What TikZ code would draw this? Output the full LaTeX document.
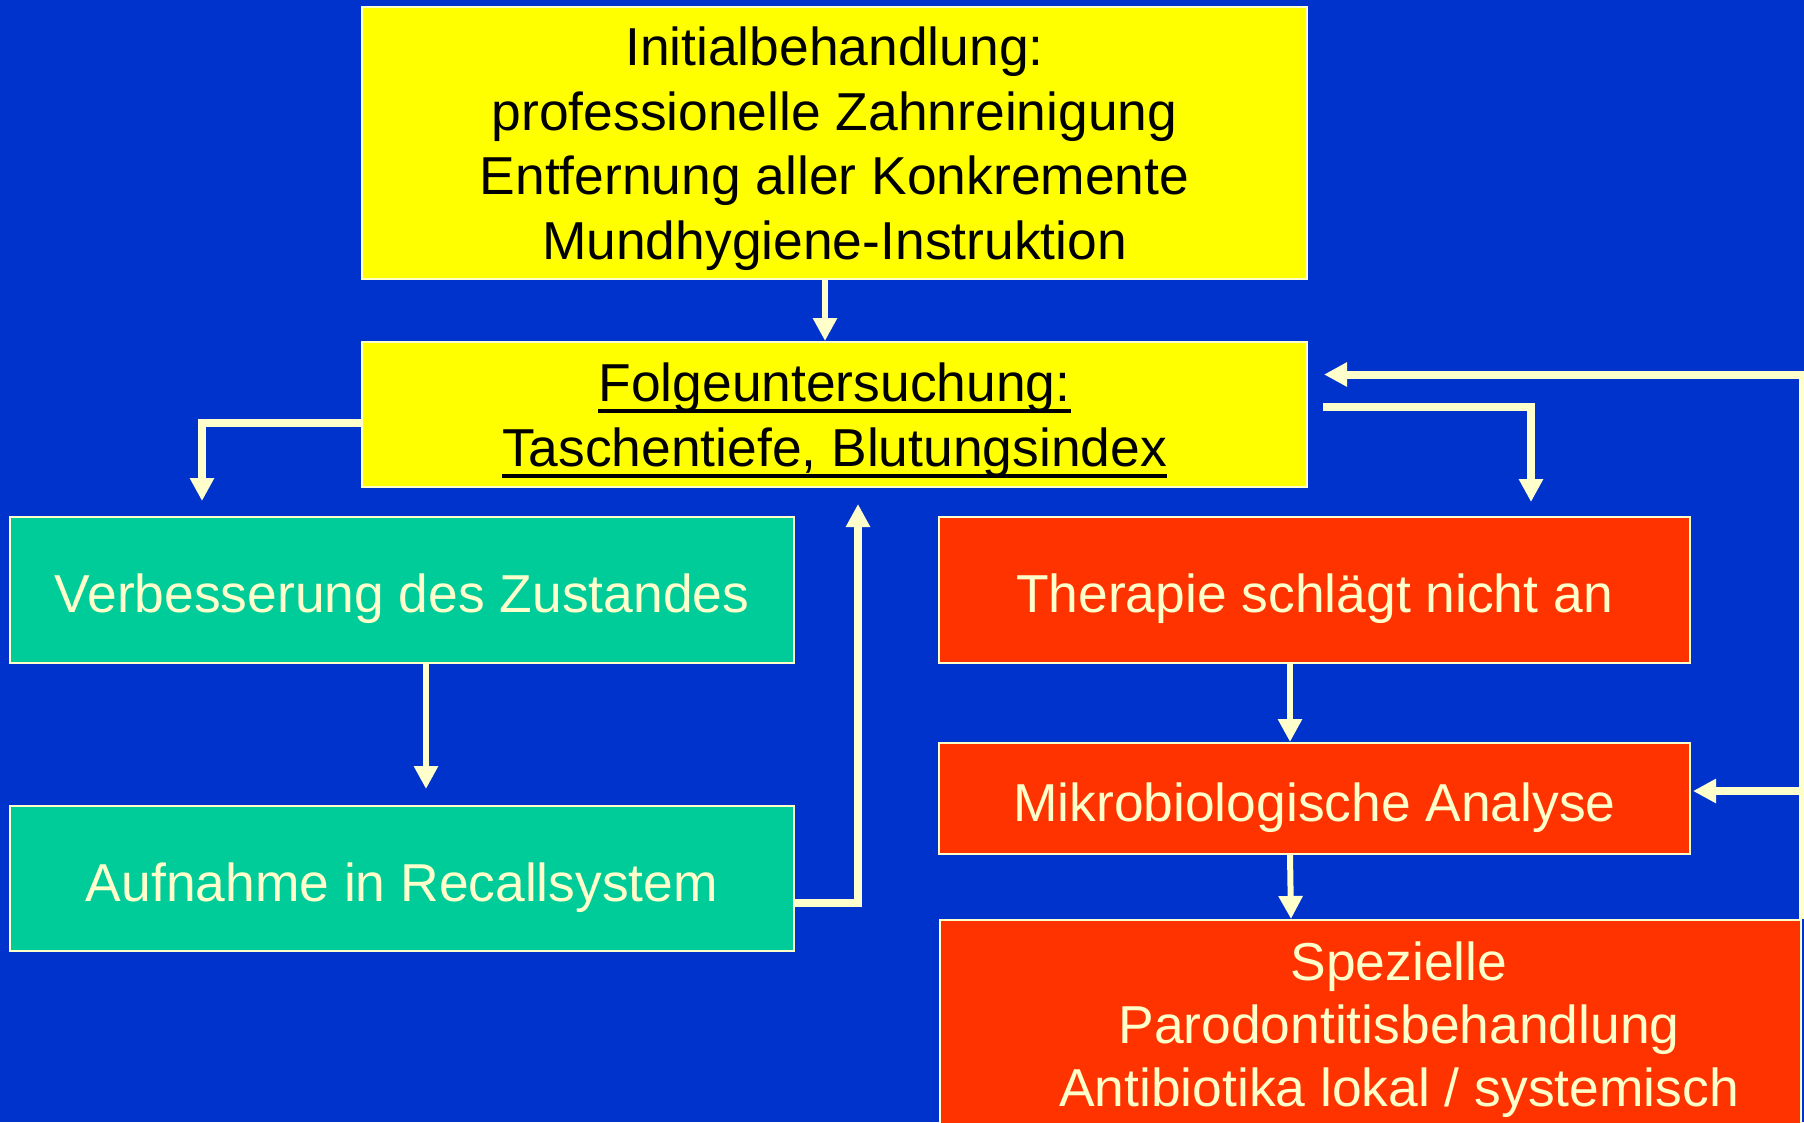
\documentclass[tikz,border=0pt]{standalone}
\usepackage{fontspec}
\setmainfont{Liberation Sans}
\usetikzlibrary{arrows.meta}
\definecolor{bgblue}{HTML}{0033CC}
\definecolor{boxyellow}{HTML}{FFFF00}
\definecolor{boxgreen}{HTML}{00CC99}
\definecolor{boxred}{HTML}{FF3300}
\definecolor{cream}{HTML}{FFFFCC}
\newcommand\myul[1]{\setbox0=\hbox{#1}\rlap{\rule[-11.5pt]{\wd0}{4pt}}\box0}
\tikzset{
  basebox/.style={draw=cream, line width=2pt, inner sep=0pt, align=center,
    font=\fontsize{53.4}{64.5}\selectfont, text depth=0pt},
  oneline/.style={text height=45pt},
  ybox/.style={basebox, fill=boxyellow, text=black},
  gbox/.style={basebox, oneline, fill=boxgreen, text=cream},
  rbox/.style={basebox, oneline, fill=boxred, text=cream},
  conn/.style={draw=cream, line width=8pt, line join=miter, -{Triangle[width=23pt,length=23pt]}, cream},
  sconn/.style={draw=cream, line width=6pt, -{Triangle[width=23pt,length=23pt]}, cream},
}
\begin{document}
\begin{tikzpicture}[x=1pt,y=-1pt]
\fill[bgblue] (0,0) rectangle (1804,1122);
\useasboundingbox (0,0) rectangle (1804,1122);
% boxes
\node[ybox, minimum width=945pt, minimum height=272pt] (init) at (834.5,143)
  {Initialbehandlung:\\professionelle Zahnreinigung\\Entfernung aller Konkremente\\Mundhygiene-Instruktion};
\node[ybox, minimum width=945pt, minimum height=145pt] (folge) at (834.5,414.5)
  {\myul{Folgeuntersuchung:}\\\myul{Taschentiefe, Blutungsindex}};
\node[gbox, minimum width=784pt, minimum height=146pt] (g1) at (402,590)
  {Verbesserung des Zustandes};
\node[gbox, minimum width=784pt, minimum height=145pt] (g2) at (402,878.5)
  {Aufnahme in Recallsystem};
\node[rbox, minimum width=751pt, minimum height=146pt] (r1) at (1314.5,590)
  {Therapie schlägt nicht an};
\node[rbox, minimum width=751pt, minimum height=111pt] (r2) at (1314.5,798.5)
  {Mikrobiologische Analyse};
\node[draw=cream, line width=2pt, fill=boxred, anchor=north west, minimum width=861pt, minimum height=240pt] (r3) at (939,919) {};
\node[align=center, inner sep=0pt, text=cream, font=\fontsize{53.4}{63}\selectfont, text depth=0pt] (r3t) at (1399,1024)
  {Spezielle\\Parodontitisbehandlung\\Antibiotika lokal / systemisch};
% connectors
\draw[sconn] ([xshift=-9.5pt]init.south) -- ([xshift=-9.5pt]folge.north);
\draw[conn, shorten >=15pt] ([yshift=-8.5pt]folge.west) -| ([xshift=-200pt]g1.north);
\draw[conn, shorten >=14pt] ([xshift=15pt,yshift=7.5pt]folge.east) -| ([xshift=216.5pt]r1.north);
\draw[sconn, shorten >=16pt] ([xshift=24pt]g1.south) -- ([xshift=24pt]g2.north);
\draw[conn, shorten >=16pt] ([yshift=-24.5pt]g2.east) -| ([xshift=23.5pt]folge.south);
\draw[sconn] ([xshift=-24.5pt]r1.south) -- ([xshift=-24.5pt]r2.north);
\draw[sconn] ([xshift=-24.5pt]r2.south) -- ([xshift=-79.5pt]r3.north);
\draw[conn] ([xshift=1pt]r3.north east) |- ([xshift=16pt,yshift=40pt]folge.east);
\coordinate (br) at (1801,791);
\draw[conn] (br) -- ([xshift=2pt,yshift=7.5pt]r2.east);
\end{tikzpicture}
\end{document}
